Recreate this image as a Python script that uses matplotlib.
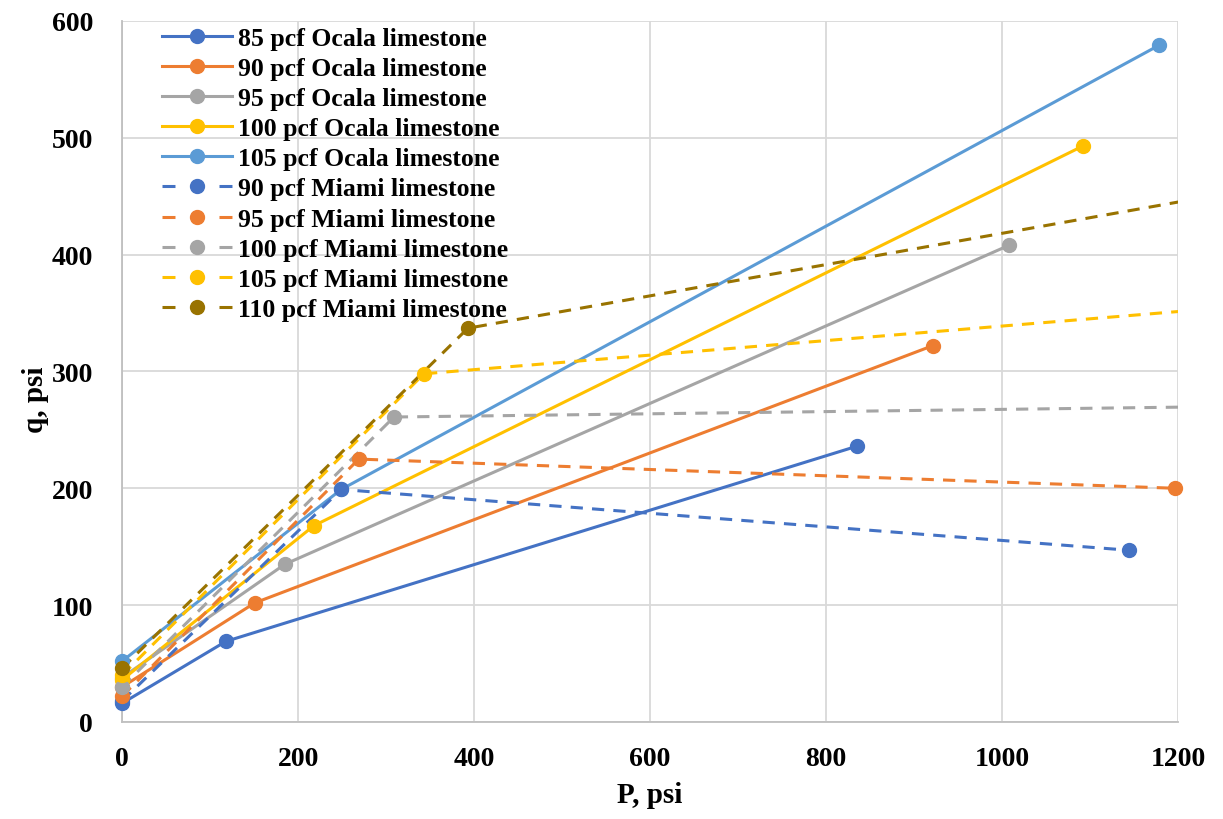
import matplotlib
matplotlib.use("Agg")
import matplotlib.pyplot as plt

plt.rcParams['font.family'] = ['Liberation Serif', 'DejaVu Serif']
plt.rcParams['font.weight'] = 'bold'

# Ocala limestone: P (psi) vs q (psi)
ocala_labels = ["85 pcf Ocala limestone", "90 pcf Ocala limestone", "95 pcf Ocala limestone",
                "100 pcf Ocala limestone", "105 pcf Ocala limestone"]
ocala_p = [[0, 118, 835], [0, 151, 921], [0, 185, 1008], [0, 218, 1092], [0, 249, 1178]]
ocala_q = [[16, 69, 236], [30, 102, 322], [38, 135, 408], [36, 168, 493], [52, 199, 579]]

# Miami limestone
miami_labels = ["90 pcf Miami limestone", "95 pcf Miami limestone", "100 pcf Miami limestone",
                "105 pcf Miami limestone", "110 pcf Miami limestone"]
miami_p = [[0, 249, 1144], [0, 269, 1197], [0, 309, 1260], [0, 343, 1260], [0, 393, 1260]]
miami_q = [[18, 199, 147], [22, 225, 200], [30, 261, 270], [40, 298, 355], [46, 337, 453]]

colors = ["#4472C4", "#ED7D31", "#A5A5A5", "#FFC000", "#5B9BD5"]
miami_colors = ["#4472C4", "#ED7D31", "#A5A5A5", "#FFC000", "#997300"]

x_ticks = [0, 200, 400, 600, 800, 1000, 1200]
y_ticks = [0, 100, 200, 300, 400, 500, 600]

fig = plt.figure(figsize=(12.23, 8.2), dpi=100)
ax = fig.add_axes([0.0998, 0.1183, 0.8635, 0.855])

XMAX = 1200
lw = 2.2
ms = 10
dash = (0, (4, 3))
legend_dash = (0, (4.25, 14.4))

handles = []
for lab, p, q, c in zip(ocala_labels, ocala_p, ocala_q, colors):
    ax.plot(p, q, color=c, lw=lw, solid_capstyle='round', zorder=3)
    pin = [a for a in p if a <= XMAX]
    qin = [b for a, b in zip(p, q) if a <= XMAX]
    ax.plot(pin, qin, ls='none', marker='o', ms=ms, color=c, clip_on=False, zorder=4)
    h, = ax.plot([], [], color=c, lw=lw, marker='o', ms=ms, label=lab)
    handles.append(h)

for lab, p, q, c in zip(miami_labels, miami_p, miami_q, miami_colors):
    ax.plot(p, q, color=c, lw=lw, ls=dash, zorder=3)
    pin = [a for a in p if a <= XMAX]
    qin = [b for a, b in zip(p, q) if a <= XMAX]
    ax.plot(pin, qin, ls='none', marker='o', ms=ms, color=c, clip_on=False, zorder=4)
    h, = ax.plot([], [], color=c, lw=lw, ls=legend_dash, marker='o', ms=ms, label=lab)
    handles.append(h)

ax.set_xlim(0, XMAX)
ax.set_ylim(0, 600)
ax.set_xticks(x_ticks)
ax.set_yticks(y_ticks)
ax.tick_params(length=0, labelsize=20)
ax.tick_params(axis='x', pad=17)
ax.tick_params(axis='y', pad=21)
for t in ax.get_xticklabels() + ax.get_yticklabels():
    t.set_fontweight('bold')
ax.grid(True, color="#d9d9d9", lw=1.3, zorder=0)
ax.set_axisbelow(True)
for s in ['top', 'right']:
    ax.spines[s].set_visible(False)
for s in ['left', 'bottom']:
    ax.spines[s].set_color("#bfbfbf")
    ax.spines[s].set_linewidth(1.3)

ax.set_xlabel("P, psi", fontsize=21, fontweight='bold', va='center')
ax.xaxis.set_label_coords(0.5, -0.103)
ax.set_ylabel("q, psi", fontsize=21, fontweight='bold', va='center')
ax.yaxis.set_label_coords(-0.082, 0.461)

leg = ax.legend(handles=handles, loc='upper left', bbox_to_anchor=(0.038, 0.992),
                frameon=False, fontsize=18.5, handlelength=2.7, handletextpad=0.25,
                labelspacing=0.28, borderaxespad=0, borderpad=0)
for t in leg.get_texts():
    t.set_fontweight('bold')

fig.savefig("out.png", dpi=100)
